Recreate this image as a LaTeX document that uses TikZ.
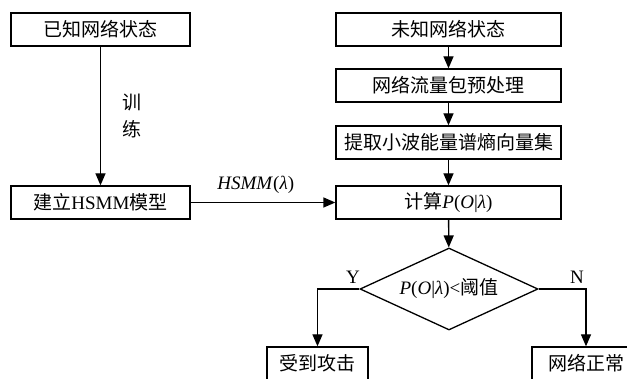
\documentclass[tikz,border=0pt]{standalone}
\usepackage{fontspec}
\setmainfont{Liberation Serif}
\newfontfamily\cjk{Noto Sans CJK SC}
\usetikzlibrary{arrows.meta,shapes.geometric}
\tikzset{
  box/.style={draw,line width=1.3pt,minimum height=33pt,inner sep=0pt,font=\fontsize{19}{22}\selectfont},
  arr/.style={line width=1.3pt,-{Triangle[length=12pt,width=10pt]}},
  lbl/.style={font=\fontsize{19}{22}\selectfont,inner sep=0pt}
}
\begin{document}
\begin{tikzpicture}[x=1pt,y=-1pt]
\clip (0,0) rectangle (627,379);
\fill[white] (0,0) rectangle (627,379);
\node[box,minimum width=179pt] (k1) at (100.5,29.5) {\cjk 已知网络状态};
\node[box,minimum width=179pt] (k2) at (100.5,202.5) {{\cjk 建立}HSMM{\cjk 模型}};
\node[box,minimum width=225pt] (u1) at (448.5,29.5) {\cjk 未知网络状态};
\node[box,minimum width=225pt] (u2) at (448.5,85.5) {\cjk 网络流量包预处理};
\node[box,minimum width=225pt] (u3) at (448.5,142.5) {\cjk 提取小波能量谱熵向量集};
\node[box,minimum width=225pt] (u4) at (448.5,202.5) {{\cjk 计算}\textit{P}(\textit{O}|\textit{λ})};
\node[draw,line width=1.3pt,diamond,aspect=2.17,minimum width=178pt,minimum height=82pt,inner sep=0pt,font=\fontsize{19}{22}\selectfont] (d) at (449,289) {\textit{P}(\textit{O}|\textit{λ})<{\cjk 阈值}};
\node[box,minimum width=101pt] (a) at (317.5,363.5) {\cjk 受到攻击};
\node[box,minimum width=108pt] (n) at (586,363.5) {\cjk 网络正常};
\draw[arr] (k1) -- (k2) node[lbl,midway,right=21pt,align=center,font=\fontsize{19}{27}\selectfont] (t) {\cjk 训\\\cjk 练};
\draw[arr] (k2) -- (u4) node[lbl,pos=0.45,above=8pt] (h) {\textit{HSMM}(\textit{λ})};
\draw[arr] (u1) -- (u2);
\draw[arr] (u2) -- (u3);
\draw[arr] (u3) -- (u4);
\draw[arr] (u4) -- (d);
\draw[arr] (d.west) -| (a.north);
\draw[arr] (d.east) -| (n.north);
\node[lbl] (y) at (353,277) {Y};
\node[lbl] (nl) at (577,277) {N};
\end{tikzpicture}
\end{document}
